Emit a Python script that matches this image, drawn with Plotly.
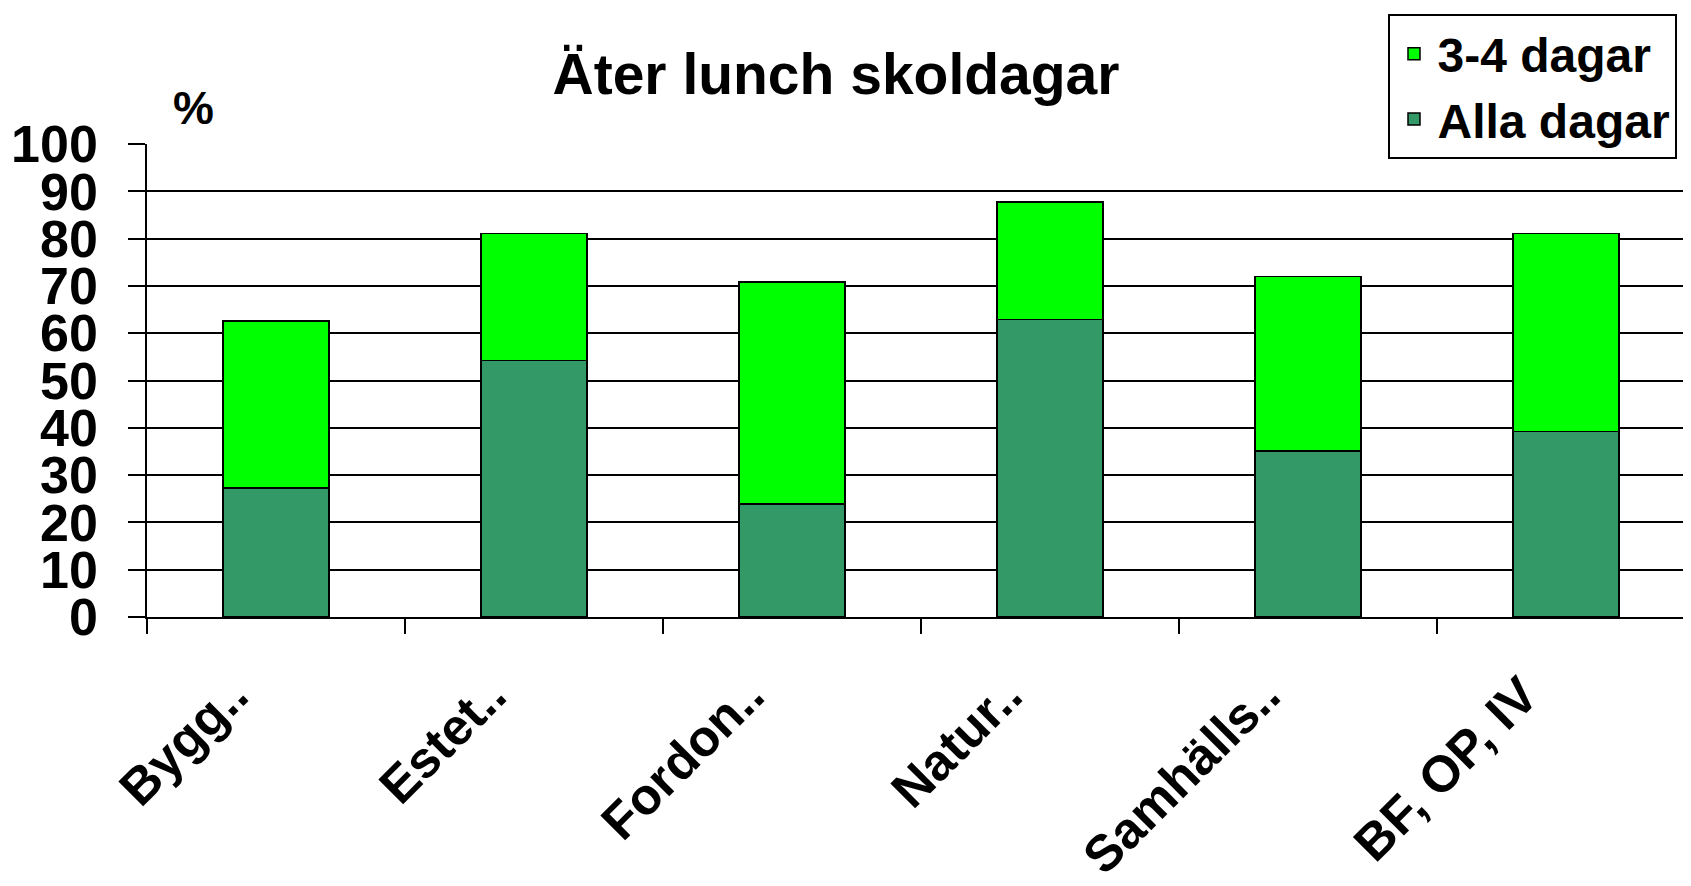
import plotly.graph_objects as go

categories = ["Bygg..", "Estet..", "Fordon..", "Natur..", "Samhälls..", "BF, OP, IV"]
alla_dagar = [27.3, 54.2, 23.9, 62.9, 35.1, 39.2]
tre_fyra_dagar = [35.3, 26.9, 46.9, 24.8, 36.9, 41.9]
y_ticks = [0, 10, 20, 30, 40, 50, 60, 70, 80, 90, 100]

FONT = "Liberation Sans, Arial, sans-serif"

fig = go.Figure()
fig.add_trace(go.Bar(
    x=categories, y=alla_dagar, name="Alla dagar",
    marker=dict(color="#339966", line=dict(color="black", width=1.5)),
    legendgroup="a",
))
fig.add_trace(go.Bar(
    x=categories, y=tre_fyra_dagar, name="3-4 dagar",
    marker=dict(color="#00FF00", line=dict(color="black", width=1.5)),
    legendgroup="b",
))

fig.update_layout(
    barmode="stack",
    bargap=0.59,
    width=1691, height=886,
    margin=dict(l=139, r=4, t=136, b=277, autoexpand=False),
    paper_bgcolor="white", plot_bgcolor="white",
    font=dict(family=FONT, color="black"),
    title=dict(
        text="<b>Äter lunch skoldagar</b>",
        font=dict(size=57, family=FONT, color="black"),
        x=(828 - 139) / 1548, xanchor="center", xref="paper",
        y=1 - 66 / 886, yanchor="middle", yref="container",
    ),
    legend=dict(
        x=0.802, y=1.275, xanchor="left", yanchor="top",
        xref="paper", yref="paper",
        traceorder="reversed",
        tracegroupgap=19,
        itemwidth=37,
        font=dict(size=48, family=FONT, color="black", weight="bold"),
        bordercolor="black", borderwidth=2, bgcolor="white",
    ),
    showlegend=True,
)

fig.update_yaxes(
    range=[0, 100], tickvals=y_ticks, ticktext=[str(v) for v in y_ticks],
    showgrid=True, gridcolor="black", gridwidth=1.5,
    showline=True, linecolor="black", linewidth=1.5,
    ticks="outside", ticklen=17, tickcolor="black", tickwidth=1.5,
    tickfont=dict(size=52, family=FONT, color="black", weight="bold"),
    ticklabelstandoff=20,
    zeroline=False, automargin=False,
)
fig.update_xaxes(
    type="category", range=[-0.5, 5.5],
    showline=True, linecolor="black", linewidth=1.5,
    ticks="outside", ticklen=15, tickcolor="black", tickwidth=1.5,
    tickson="boundaries",
    tickangle=-45,
    tickfont=dict(size=51, family=FONT, color="black", weight="bold"),
    ticklabelstandoff=26,
    ticklabelshift=-43,
    automargin=False,
)

fig.add_annotation(
    text="<b>%</b>", x=(185 - 139) / 1548, y=(609 - 100) / 473,
    xref="paper", yref="paper",
    showarrow=False, xanchor="center", yanchor="middle",
    font=dict(size=46, family=FONT, color="black"),
)

fig.write_html("out.html")
